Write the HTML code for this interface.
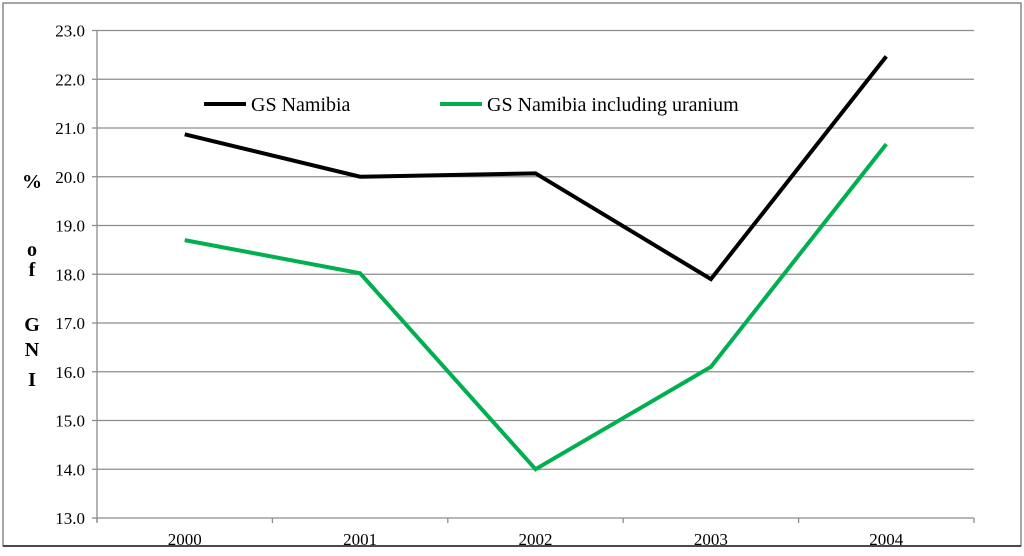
<!DOCTYPE html>
<html><head><meta charset="utf-8"><style>
body{margin:0;background:#fff}
svg,svg text{font-family:"Liberation Serif","DejaVu Serif",serif}
</style></head><body>
<svg width="1024" height="551" font-family="Liberation Serif, serif">
<rect x="3" y="3" width="1018" height="543" fill="#fff" stroke="#888" stroke-width="1.5"/>
<line x1="3" y1="546" x2="1021" y2="546" stroke="#222" stroke-width="1.5"/>
<g id="grid"></g><g id="axes"></g><g id="series"></g>
<g font-weight="bold" font-size="20" text-anchor="middle" font-family="Liberation Serif, serif">
<text x="32" y="188">%</text><text x="32" y="256">o</text><text x="32" y="276">f</text>
<text x="32" y="331">G</text><text x="32" y="356">N</text><text x="32" y="386">I</text></g>
<g font-size="20" font-family="Liberation Serif, serif">
<g><line x1="204" y1="104" x2="246" y2="104" stroke="#000" stroke-width="4"/><text x="251" y="111">GS Namibia</text></g>
<g><line x1="440" y1="104" x2="482" y2="104" stroke="#00b050" stroke-width="4"/><text x="487" y="111">GS Namibia including uranium</text></g>
</g>
</svg>
<script>
const categories=["2000","2001","2002","2003","2004"];
const gsNamibia=[20.87,20.0,20.07,17.9,22.47];
const gsUranium=[18.7,18.02,14.0,16.1,20.67];
const yTicks=[13,14,15,16,17,18,19,20,21,22,23];
const NS="http://www.w3.org/2000/svg";
const X0=97,X1=974,Y0=518,Y1=30.5,ymin=13,ymax=23;
const bw=(X1-X0)/categories.length;
const xs=i=>X0+bw*(i+0.5);
const ys=v=>Y0-(v-ymin)/(ymax-ymin)*(Y0-Y1);
function mk(t,a,p){const e=document.createElementNS(NS,t);for(const k in a)e.setAttribute(k,a[k]);p.appendChild(e);return e;}
const grid=document.getElementById('grid'),axes=document.getElementById('axes'),ser=document.getElementById('series');
yTicks.forEach(v=>{
 const l=mk('line',{x1:X0,x2:X1,y1:ys(v),y2:ys(v),stroke:'#8c8c8c','stroke-width':1.3},grid);
 
 
 mk('line',{x1:X0-5,x2:X0,y1:ys(v),y2:ys(v),stroke:'#8c8c8c','stroke-width':1.3},axes);
 const t=mk('text',{x:X0-12,y:ys(v)+6,'text-anchor':'end','font-size':17,'font-family':'Liberation Serif, serif'},axes);
 t.textContent=v.toFixed(1);
 
 
});
mk('line',{x1:X0,x2:X0,y1:Y1,y2:Y0+4,stroke:'#8c8c8c','stroke-width':1.3},axes);
for(let i=0;i<=categories.length;i++)mk('line',{x1:X0+bw*i,x2:X0+bw*i,y1:Y0,y2:Y0+5,stroke:'#8c8c8c','stroke-width':1.3},axes);
categories.forEach((c,i)=>{
 const t=mk('text',{x:xs(i),y:545,'text-anchor':'middle','font-size':17,'font-family':'Liberation Serif, serif'},axes);
 t.textContent=c;
 
 
});
function line(d,col,name){
 const p=mk('polyline',{points:d.map((v,i)=>xs(i)+','+ys(v)).join(' '),fill:'none',stroke:col,'stroke-width':4,'stroke-linejoin':'miter'},ser);
 
 
}
line(gsUranium,'#00b050','series-gs-namibia-uranium');
line(gsNamibia,'#000','series-gs-namibia');
</script>
</body></html>
